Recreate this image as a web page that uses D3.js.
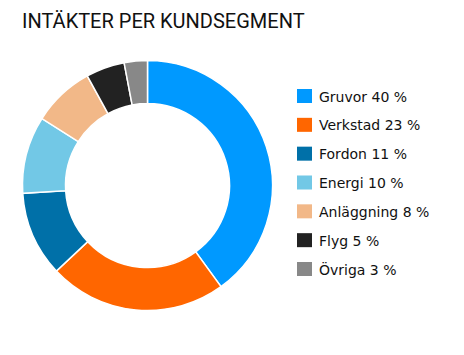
<!DOCTYPE html>
<html><head><meta charset="utf-8">
<script src="https://cdn.jsdelivr.net/npm/d3@7"></script>
<style>body{margin:0;background:#fff}svg{display:block}</style>
</head><body>
<script>
const categories = ["Gruvor","Verkstad","Fordon","Energi","Anläggning","Flyg","Övriga"];
const values = [40,23,11,10,8,5,3];
const colors = ["#0099ff","#ff6600","#0070a8","#72c8e6","#f2b888","#222222","#888888"];
const title = "INTÄKTER PER KUNDSEGMENT";

const W=464,H=355;
const svg=d3.select("body").append("svg").attr("width",W).attr("height",H);
svg.append("text").attr("x",22).attr("y",28).attr("font-family","Roboto").attr("font-size",20)
  .attr("fill","#111").text(title);

const data=categories.map((c,i)=>({c,v:values[i],col:colors[i]}));
const pie=d3.pie().value(d=>d.v).sort(null);
const arc=d3.arc().innerRadius(82).outerRadius(125);
const g=svg.append("g").attr("transform","translate(147.5,185.5)");
g.selectAll("path").data(pie(data)).join("path").attr("d",arc)
  .attr("fill",d=>d.data.col).attr("stroke","#fff").attr("stroke-width",1.5);

const y=d3.scalePoint().domain(categories).range([96,269]);
const lg=svg.append("g");
const row=lg.selectAll("g").data(data).join("g").attr("transform",d=>`translate(297,${y(d.c)})`);
row.append("rect").attr("x",0).attr("y",-7).attr("width",15).attr("height",14).attr("fill",d=>d.col);
row.append("text").attr("x",22).attr("y",5.5).attr("font-family","DejaVu Sans").attr("font-size",14)
  .attr("fill","#111").text(d=>`${d.c} ${d.v} %`);
</script>
</body></html>
